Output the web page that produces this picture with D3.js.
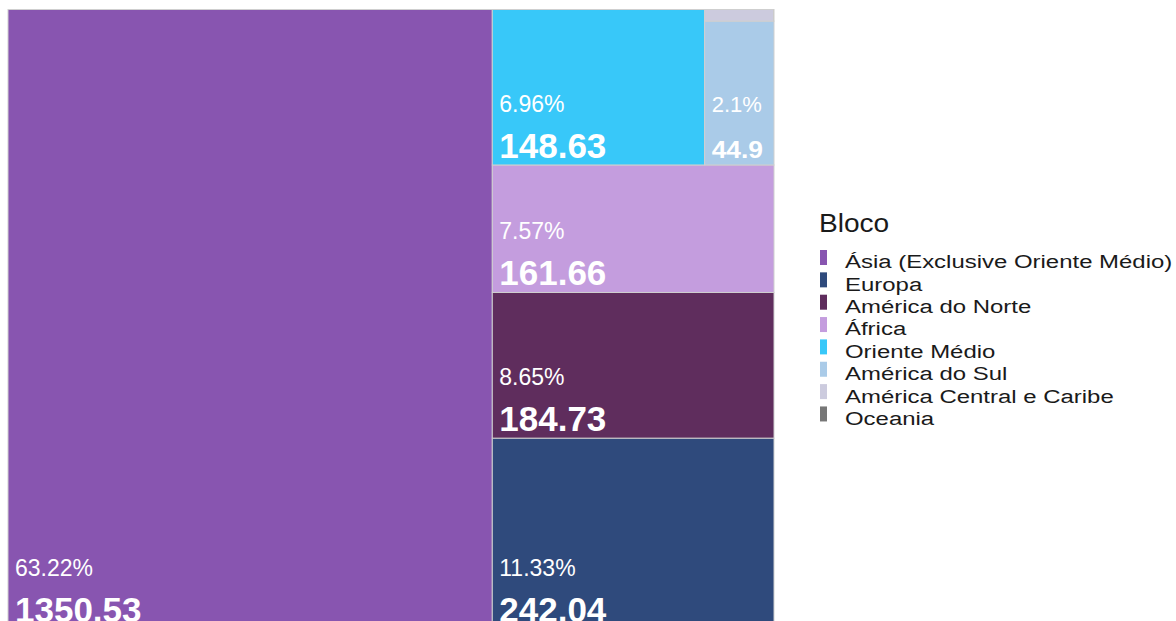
<!DOCTYPE html>
<html>
<head>
<meta charset="utf-8">
<script src="https://cdn.jsdelivr.net/npm/d3@7"></script>
<style>
  html, body { margin: 0; padding: 0; background: #ffffff; }
  svg { display: block; }
  text { font-family: "Liberation Sans", Arial, sans-serif; }
</style>
</head>
<body>
<svg id="chart" width="1176" height="621"></svg>
<script>
// ---- data ----
const categories = ["Ásia (Exclusive Oriente Médio)", "Europa", "América do Norte", "África",
                    "Oriente Médio", "América do Sul", "América Central e Caribe", "Oceania"];
const values = [1350.53, 242.04, 184.73, 161.66, 148.63, 44.9, 3.6, 0.02];
const colors = ["#8855b0", "#2f4a7c", "#5f2d5d", "#c49dde", "#38c8f9", "#aacbe8", "#cccbde", "#777777"];
const legendTitle = "Bloco";

// ---- layout ----
const svg = d3.select("#chart");
const X0 = 8, Y0 = 9.5, W = 766, H = 619.5;

// each node takes its own strip along the shorter side of the remaining area
function stripTile(parent, x0, y0, x1, y1) {
  const nodes = parent.children;
  let remaining = parent.value;
  nodes.forEach(n => {
    const dx = x1 - x0, dy = y1 - y0;
    const f = remaining ? n.value / remaining : 0;
    if (dx >= dy) {
      const w = dx * f;
      n.x0 = x0; n.x1 = x0 + w; n.y0 = y0; n.y1 = y1;
      x0 += w;
    } else {
      const h = dy * f;
      n.x0 = x0; n.x1 = x1; n.y0 = y0; n.y1 = y0 + h;
      y0 += h;
    }
    remaining -= n.value;
  });
}

const root = d3.hierarchy({children: categories.map((c, i) => ({name: c, value: values[i], idx: i}))})
  .sum(d => d.value || 0);

d3.treemap()
  .tile(stripTile)
  .size([W, H])
  .round(false)(root);

const total = d3.sum(values);
const fmtPct = v => (+(v * 100).toFixed(2)) + "%";

const leaves = root.leaves().map(d => ({
  name: d.data.name, value: d.data.value, idx: d.data.idx,
  x0: X0 + d.x0, x1: X0 + d.x1,
  y0: Y0 + (H - d.y1), y1: Y0 + (H - d.y0)   // laid out from the bottom
}));

const g = svg.append("g");
g.selectAll("rect").data(leaves).join("rect")
  .attr("x", d => d.x0).attr("y", d => d.y0)
  .attr("width", d => d.x1 - d.x0).attr("height", d => d.y1 - d.y0)
  .attr("fill", d => colors[d.idx])
  .attr("stroke", "#cfcfcf").attr("stroke-width", 1);

const labelled = leaves.filter(d => (d.y1 - d.y0) > 60 && (d.x1 - d.x0) > 40);

labelled.forEach(d => {
  const narrow = (d.x1 - d.x0) < 100;
  const vBase = d.y1 - 7;
  const tx = d.x0 + 7;
  g.append("text")
    .attr("x", tx).attr("y", vBase - 46)
    .attr("fill", "#ffffff")
    .attr("font-size", narrow ? 22 : 23)
    .text(fmtPct(d.value / total));
  const vt = g.append("text")
    .attr("fill", "#ffffff")
    .attr("font-weight", "bold")
    .attr("font-size", narrow ? 24 : 35)
    .text(String(d.value));
  if (narrow) {
    vt.attr("transform", `translate(${tx},${vBase}) scale(1.1,1)`);
  } else {
    vt.attr("x", tx).attr("y", vBase);
  }
});

// ---- legend ----
const lg = svg.append("g");
lg.append("text")
  .attr("transform", "translate(819,231.5) scale(1.08,1)")
  .attr("font-size", 26).attr("fill", "#1a1a1a")
  .text(legendTitle);

const step = 22.35;
categories.forEach((c, i) => {
  const base = 268.4 + i * step;
  lg.append("rect")
    .attr("x", 820).attr("y", base - 18.4)
    .attr("width", 7).attr("height", 15)
    .attr("fill", colors[i]);
  lg.append("text")
    .attr("transform", `translate(845,${base}) scale(1.26,1)`)
    .attr("font-size", 19).attr("fill", "#1a1a1a")
    .text(c);
});
</script>
</body>
</html>
